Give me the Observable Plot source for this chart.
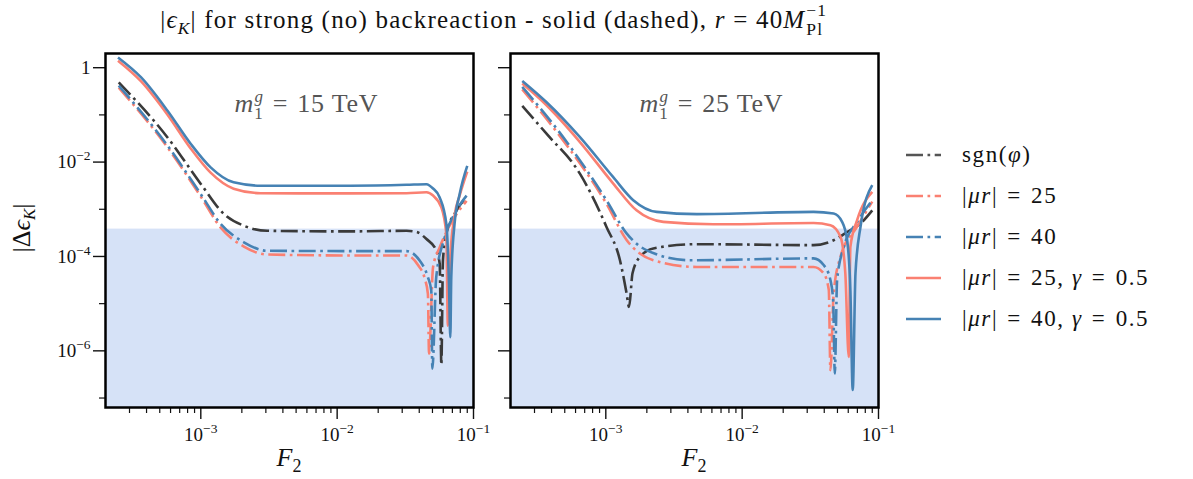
<!DOCTYPE html>
<html><head><meta charset="utf-8">
<script src="https://cdn.jsdelivr.net/npm/d3@7"></script>
<script src="https://cdn.jsdelivr.net/npm/@observablehq/plot@0.6"></script>
<style>
body{margin:0;background:#fff;}
#wrap{position:relative;width:1193px;height:479px;font-family:"Liberation Serif",serif;color:#111;overflow:hidden;}
#title{position:absolute;left:0;width:984px;top:6px;text-align:center;font-size:25px;letter-spacing:1.2px;white-space:nowrap;}
#legend{position:absolute;left:906px;top:134px;font-size:23px;letter-spacing:1.6px;}
.row{display:flex;align-items:center;height:41px;}
.row svg{margin-right:21px;}
.panel{position:absolute;top:0;}
.eq{margin:0 0.4em;}
.stk{position:relative;display:inline-block;width:1.05em;height:1em;font-size:0.7em;}
.stk span{position:absolute;left:0.05em;}
</style></head><body>
<div id="wrap">
<div id="title">|<i>ϵ</i><sub style="font-size:0.7em"><i>K</i></sub>| for strong (no) backreaction - solid (dashed), <i>r</i><span class="eq" style="margin:0 0.3em">=</span>40<i>M</i><span class="stk"><span style="top:-0.6em">−1</span><span style="top:0.5em">Pl</span></span></div>
<div id="p1" class="panel" style="left:0"></div>
<div id="p2" class="panel" style="left:480px"></div>
<div id="legend"></div>
</div>
<script>
// ---------- data ----------
const X_DOMAIN = [2e-4, 0.1];
const Y_DOMAIN = [6.3e-8, 2];
const SHADE_TOP = 3.8e-4;
const Y_MAJOR = [1, 1e-2, 1e-4, 1e-6];
const Y_MINOR = [1e-1, 1e-3, 1e-5, 1e-7];
const X_MAJOR = [1e-3, 1e-2, 1e-1];
const X_MINOR = [3e-4,4e-4,5e-4,6e-4,7e-4,8e-4,9e-4,2e-3,3e-3,4e-3,5e-3,6e-3,7e-3,8e-3,9e-3,2e-2,3e-2,4e-2,5e-2,6e-2,7e-2,8e-2,9e-2];
const PANEL_LABELS = ["m_1^g = 15 TeV", "m_1^g = 25 TeV"];
const SERIES_NAMES = ["sgn(φ)", "|μr| = 25", "|μr| = 40", "|μr| = 25, γ = 0.5", "|μr| = 40, γ = 0.5"];

// left panel, m1g = 15 TeV
const L_sgn_F = [2.5e-4, 5.7e-4, 1e-3, 1.48e-3, 2.07e-3, 3.07e-3, 1.245e-2, 3.23e-2, 3.82e-2, 4.52e-2, 5.35e-2, 5.65e-2, 5.81e-2, 5.97e-2, 6.32e-2, 7.48e-2, 8.9e-2];
const L_sgn_v = [0.489, 3.33e-2, 3.44e-3, 7.9e-4, 4.47e-4, 3.5e-4, 3.4e-4, 3.5e-4, 3.3e-4, 2.34e-4, 1.32e-4, 7e-5, 5.1e-7, 8.3e-5, 3.0e-4, 9.3e-4, 1.78e-3];
const L_mu25_F = [2.5e-4, 5.7e-4, 1e-3, 1.40e-3, 2.07e-3, 3.07e-3, 1.245e-2, 3.23e-2, 3.93e-2, 4.39e-2, 4.63e-2, 4.72e-2, 5.05e-2, 5.65e-2, 6.68e-2, 8.9e-2];
const L_mu25_v = [0.38, 2.04e-2, 1.86e-3, 4.07e-4, 1.62e-4, 1.10e-4, 1.05e-4, 1.05e-4, 6.5e-5, 3.4e-5, 1.62e-5, 8.7e-7, 5.9e-5, 1.55e-4, 4.47e-4, 1.51e-3];
const L_mu40_F = [2.5e-4, 5.7e-4, 1e-3, 1.40e-3, 2.07e-3, 3.07e-3, 1.245e-2, 3.23e-2, 4.04e-2, 4.63e-2, 4.90e-2, 4.99e-2, 5.33e-2, 6.14e-2, 7.48e-2, 8.9e-2];
const L_mu40_v = [0.417, 2.24e-2, 2.09e-3, 4.9e-4, 2.0e-4, 1.32e-4, 1.3e-4, 1.3e-4, 8.1e-5, 3.63e-5, 1.9e-5, 4.2e-7, 3.63e-5, 2.5e-4, 9.3e-4, 1.95e-3];
const L_mu25g_F = [2.47e-4, 3.65e-4, 5.7e-4, 8.45e-4, 1.18e-3, 1.74e-3, 2.74e-3, 1.245e-2, 3.23e-2, 4.52e-2, 5.05e-2, 5.81e-2, 6.32e-2, 6.49e-2, 6.73e-2, 7.26e-2, 7.91e-2, 9e-2];
const L_mu25g_v = [1.41, 0.513, 0.101, 1.92e-2, 5.96e-3, 2.73e-3, 2.19e-3, 2.17e-3, 2.19e-3, 2.29e-3, 1.95e-3, 1.10e-3, 3.0e-4, 3.4e-6, 8.1e-5, 7.3e-4, 1.95e-3, 6.3e-3];
const L_mu40g_F = [2.47e-4, 3.65e-4, 5.7e-4, 8.45e-4, 1.18e-3, 1.74e-3, 2.74e-3, 1.245e-2, 3.23e-2, 4.52e-2, 5.05e-2, 5.65e-2, 6.32e-2, 6.61e-2, 6.76e-2, 6.87e-2, 7.26e-2, 7.91e-2, 9e-2];
const L_mu40g_v = [1.65, 0.622, 0.1227, 2.42e-2, 7.73e-3, 3.72e-3, 3.16e-3, 3.16e-3, 3.3e-3, 3.4e-3, 2.75e-3, 1.78e-3, 4.9e-4, 2.63e-5, 1.95e-6, 3.63e-5, 4.9e-4, 2.09e-3, 8.3e-3];

// right panel, m1g = 25 TeV
const R_sgn_F = [2.44e-4, 3.66e-4, 6.44e-4, 1.01e-3, 1.27e-3, 1.42e-3, 1.48e-3, 1.57e-3, 1.78e-3, 2.23e-3, 4.65e-3, 3.34e-2, 4.69e-2, 5.89e-2, 7.38e-2, 9e-2];
const R_sgn_v = [0.155, 4.04e-2, 5.75e-3, 4.27e-4, 8.3e-5, 1.66e-5, 8.5e-6, 4.4e-5, 9.8e-5, 1.48e-4, 1.82e-4, 1.74e-4, 2.21e-4, 3.3e-4, 5.0e-4, 9.5e-4];
const R_mu25_F = [2.44e-4, 4.85e-4, 1.01e-3, 1.42e-3, 2.23e-3, 4.65e-3, 3.34e-2, 3.96e-2, 4.32e-2, 4.44e-2, 4.69e-2, 5.26e-2, 6.97e-2, 9e-2];
const R_mu25_v = [0.347, 2.91e-2, 1.32e-3, 2.24e-4, 8.3e-5, 6.0e-5, 6.0e-5, 4.4e-5, 1.95e-5, 3.9e-7, 1.66e-5, 9.8e-5, 4.27e-4, 1.45e-3];
const R_mu40_F = [2.44e-4, 4.85e-4, 1.01e-3, 1.42e-3, 2.0e-3, 4.15e-3, 3.34e-2, 3.96e-2, 4.44e-2, 4.65e-2, 4.78e-2, 4.97e-2, 5.56e-2, 6.97e-2, 9e-2];
const R_mu40_v = [0.392, 3.42e-2, 1.56e-3, 3.09e-4, 1.35e-4, 8.3e-5, 9.1e-5, 6.6e-5, 3.16e-5, 1.17e-5, 3.3e-7, 3.16e-5, 1.58e-4, 5.4e-4, 1.55e-3];
const R_mu25g_F = [2.44e-4, 3.66e-4, 6.44e-4, 1.13e-3, 1.68e-3, 2.64e-3, 6.15e-3, 3.34e-2, 4.44e-2, 5.26e-2, 5.71e-2, 6.05e-2, 6.22e-2, 6.97e-2, 9e-2];
const R_mu25g_v = [0.462, 0.162, 2.69e-2, 3.55e-3, 9.5e-4, 5.4e-4, 4.8e-4, 5.1e-4, 4.6e-4, 2.63e-4, 4.4e-5, 7.4e-7, 1.6e-4, 5.9e-4, 2.34e-3];
const R_mu40g_F = [2.44e-4, 3.66e-4, 6.44e-4, 1.13e-3, 1.59e-3, 2.36e-3, 4.65e-3, 3.34e-2, 4.69e-2, 5.41e-2, 5.89e-2, 6.22e-2, 6.47e-2, 6.78e-2, 7.38e-2, 9e-2];
const R_mu40g_v = [0.525, 0.188, 3.42e-2, 4.85e-3, 1.56e-3, 8.8e-4, 7.9e-4, 8.8e-4, 8.1e-4, 5.4e-4, 2.21e-4, 1.93e-5, 1.48e-7, 4.47e-5, 4.27e-4, 3.24e-3];

// ---------- styles ----------
const COLORS = ["#3a3a3a", "#fa8072", "#4682b4", "#fa8072", "#4682b4"];
const DASH = "17,4.5,2.7,4.5";
const DASHES = [DASH, DASH, DASH, null, null];

const pack = (F, v) => F.map((f, i) => ({F: f, v: v[i]}));
const LEFT = [pack(L_sgn_F, L_sgn_v), pack(L_mu25_F, L_mu25_v), pack(L_mu40_F, L_mu40_v), pack(L_mu25g_F, L_mu25g_v), pack(L_mu40g_F, L_mu40g_v)];
const RIGHT = [pack(R_sgn_F, R_sgn_v), pack(R_mu25_F, R_mu25_v), pack(R_mu40_F, R_mu40_v), pack(R_mu25g_F, R_mu25g_v), pack(R_mu40g_F, R_mu40g_v)];

const fmt = d => d === 1 ? "1" : "10^" + Math.round(Math.log10(d));

function makePanel(series, label, showYLabels, width, mLeft, mRight) {
  const marks = [
    Plot.rect([{x1: X_DOMAIN[0], x2: X_DOMAIN[1], y1: Y_DOMAIN[0], y2: SHADE_TOP}], {x1: "x1", x2: "x2", y1: "y1", y2: "y2", fill: "#d6e2f7"}),
    ...series.map((s, i) => Plot.line(s, {x: "F", y: "v", stroke: COLORS[i], strokeWidth: 2.6, strokeDasharray: DASHES[i], strokeLinecap: "butt", curve: "monotone-x"})),
    Plot.text([label], {frameAnchor: "top", dx: 17, dy: 40, text: d => d, fontSize: 26, fill: "#555", fontFamily: "Liberation Serif"}),
    Plot.axisY(Y_MAJOR, {tickSize: 12, tickPadding: 3, strokeWidth: 1.4, tickFormat: showYLabels ? fmt : () => "", fontSize: 19, label: null, fill: "#111"}),
    Plot.axisY(Y_MINOR, {tickSize: 6, strokeWidth: 1.2, tickFormat: () => "", label: null}),
    Plot.axisX(X_MAJOR, {tickSize: 12, tickPadding: 8, strokeWidth: 1.4, tickFormat: fmt, fontSize: 19, label: null, fill: "#111"}),
    Plot.axisX(X_MINOR, {tickSize: 6, strokeWidth: 1.2, tickFormat: () => "", label: null}),
    Plot.frame({stroke: "black", strokeWidth: 2.5})
  ];
  return Plot.plot({
    width, height: 479,
    marginLeft: mLeft, marginRight: mRight, marginTop: 53, marginBottom: 72,
    style: {fontFamily: "Liberation Serif", background: "transparent", overflow: "visible"},
    x: {type: "log", domain: X_DOMAIN},
    y: {type: "log", domain: Y_DOMAIN},
    marks
  });
}

function decorate(svg, xCenter) {
  const s = d3.select(svg);
  s.selectAll("text").each(function() {
    const t = this.textContent;
    const sel = d3.select(this);
    if (t.startsWith("10^")) {
      const exp = t.slice(3).replace("-", "−");
      sel.text(null);
      sel.append("tspan").text("10");
      sel.append("tspan").attr("dy", -8).attr("font-size", 13.5).text(exp);
    } else if (t.startsWith("m_1^g")) {
      const rest = t.slice(5).trim().replace(/^=\s*/, "");
      sel.attr("letter-spacing", 0.8);
      sel.text(null);
      sel.append("tspan").attr("font-style", "italic").text("m");
      sel.append("tspan").attr("dy", 7).attr("font-size", 17).text("1");
      sel.append("tspan").attr("dx", -9).attr("dy", -17).attr("font-size", 17).attr("font-style", "italic").text("g");
      sel.append("tspan").attr("dx", 9).attr("dy", 10).text("=");
      sel.append("tspan").attr("dx", 9).text(rest);
    }
  });
  const xl = s.append("text").attr("x", xCenter).attr("y", 466).attr("text-anchor", "middle")
    .attr("font-size", 26).attr("font-family", "Liberation Serif").attr("fill", "#111");
  xl.append("tspan").attr("font-style", "italic").text("F");
  xl.append("tspan").attr("dy", 6).attr("font-size", 18).text("2");
}

const svgL = makePanel(LEFT, PANEL_LABELS[0], true, 480, 105, 7);
const svgR = makePanel(RIGHT, PANEL_LABELS[1], false, 400, 30, 2);
decorate(svgL, 289);
decorate(svgR, 214);
// y label
{
  const yl = d3.select(svgL).append("text").attr("transform", "translate(30,228) rotate(-90)")
    .attr("text-anchor", "middle").attr("font-size", 26).attr("font-family", "Liberation Serif").attr("fill", "#111");
  yl.append("tspan").text("|Δ");
  yl.append("tspan").attr("font-style", "italic").text("ϵ");
  yl.append("tspan").attr("dy", 5).attr("font-size", 17).attr("font-style", "italic").text("K");
  yl.append("tspan").attr("dy", -5).text("|");
}
document.getElementById("p1").appendChild(svgL);
document.getElementById("p2").appendChild(svgR);

// legend
const EQ = '<span class="eq">=</span>';
const LEG_HTML = ["sgn(<i>φ</i>)", `|<i>μr</i>|${EQ}25`, `|<i>μr</i>|${EQ}40`, `|<i>μr</i>|${EQ}25, <i>γ</i>${EQ}0.5`, `|<i>μr</i>|${EQ}40, <i>γ</i>${EQ}0.5`];
const leg = d3.select("#legend");
SERIES_NAMES.forEach((name, i) => {
  const row = leg.append("div").attr("class", "row").attr("title", name);
  const sw = row.append("svg").attr("width", 35).attr("height", 10);
  sw.append("line").attr("x1", 0).attr("x2", 35).attr("y1", 5).attr("y2", 5)
    .attr("stroke", i === 0 ? "#555" : COLORS[i]).attr("stroke-width", 2.6)
    .attr("stroke-dasharray", DASHES[i]);
  row.append("span").html(LEG_HTML[i]);
});
</script>
</body></html>
